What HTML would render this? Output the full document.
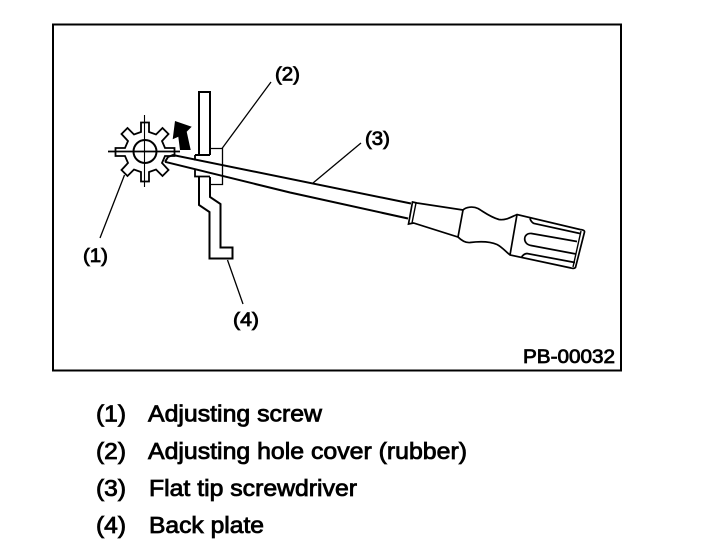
<!DOCTYPE html>
<html><head><meta charset="utf-8"><style>
html,body{margin:0;padding:0;background:#fff;width:704px;height:558px;overflow:hidden}
svg{display:block}
text{font-family:"Liberation Sans",sans-serif;fill:#000;stroke:#000;stroke-width:.8}
</style></head><body>
<svg width="704" height="558" viewBox="0 0 704 558" xmlns="http://www.w3.org/2000/svg">
<rect x="53" y="24.5" width="568" height="346" fill="none" stroke="#000" stroke-width="2"/>
<g fill="none" stroke="#000" stroke-width="1.8" stroke-linejoin="miter">
<!-- gear -->
<polygon stroke-width="1.8" points="141,122.5 149,122.5 149,132 156,134.5 162.5,128 168.5,134 162,141 165,148 174.5,148 174.5,156 165,156 162,163 168.5,170 162.5,176 156,169.5 149,172 149,181.5 141,181.5 141,172 134,169.5 127.500,176 121.500,170 128,163 125,156 115.500,156 115.500,148 125,148 128,141 121.500,134 127.500,128 134,134.500 141,132"/>
<circle cx="145" cy="151.500" r="11.500" stroke-width="2"/>
<path d="M108 151.500H180" stroke-width="1.800"/>
<path d="M144.500 115V187" stroke-width="1.100"/>
<!-- back plate -->
<path d="M199 155V92H210V155" stroke-width="2"/>
<path d="M199 177V205L209.500 212V258.500H232.500V247.500H220.500V204L210 197V177" stroke-width="2"/>
<!-- cover -->
<path d="M210 148.500H222.500V184.500H210" stroke-width="1.300"/>
<path d="M195 155H210" stroke-width="2"/>
<path d="M195 155V160.500" stroke-width="1.800"/>
<path d="M195 170V176.500H210" stroke-width="1.800"/>
<!-- screwdriver shaft -->
<path d="M165 161.800L168 157L173 155L411 203.500" stroke-width="2"/>
<path d="M165 161.800L290 192.500L408 218.500" stroke-width="2"/>
<!-- ferrule -->
<path d="M412.500 202L417 203L463 210L458 237L413.500 223L408.500 224L412.500 202Z" stroke-width="1.700"/>
<path d="M416 203L412 223" stroke-width="1.400"/>
<!-- handle -->
<path d="M463 210C466 207 473 206 478 208.500C484 212 490 217 499 219.500C506 220.500 511 217 517 214.500L580 229.500Q585 230 584.500 232L575.500 267.500Q574 269 571 268L510 255C505 251 502 247 497 244.500C489 241 478 241.500 470 242.500C465 243 461 240 458 237" stroke-width="1.700"/>
<path d="M517 214.500L510 255" stroke-width="1.700"/>
<path d="M581 231L573 267" stroke-width="1.400"/>
<path d="M530 218.500Q531 222 534 223.500L580 233.500" stroke-width="1.700"/>
<path d="M577 241.500L531.500 233.500C523 232.500 522 244 531 245.500L576 254" stroke-width="1.700"/>
<path d="M521.500 257.500Q523 254 527 253.500L575 262.500" stroke-width="1.700"/>
<!-- leaders -->
<g stroke-width="1.300">
<path d="M271 82L222 148.500"/>
<path d="M361 143L313 183"/>
<path d="M124.500 175L100 238"/>
<path d="M227.500 260L243 304"/>
</g>
</g>
<polygon points="175,121 191.700,126.700 186.700,131.700 190.700,150 180,150 178.300,136.700 172.700,139.300" fill="#000"/>
<g font-size="19.500">
<text x="275" y="80.500" textLength="25" lengthAdjust="spacingAndGlyphs">(2)</text>
<text x="365" y="145" textLength="25" lengthAdjust="spacingAndGlyphs">(3)</text>
<text x="83" y="262" textLength="25" lengthAdjust="spacingAndGlyphs">(1)</text>
<text x="233" y="326" textLength="26" lengthAdjust="spacingAndGlyphs">(4)</text>
<text x="523" y="363" textLength="92" lengthAdjust="spacingAndGlyphs">PB-00032</text>
</g>
<g font-size="23">
<text x="96" y="421.500" textLength="30" lengthAdjust="spacingAndGlyphs">(1)</text>
<text x="148" y="421.500" textLength="174" lengthAdjust="spacingAndGlyphs">Adjusting screw</text>
<text x="96" y="459" textLength="30" lengthAdjust="spacingAndGlyphs">(2)</text>
<text x="148" y="459" textLength="319" lengthAdjust="spacingAndGlyphs">Adjusting hole cover (rubber)</text>
<text x="96" y="496" textLength="30" lengthAdjust="spacingAndGlyphs">(3)</text>
<text x="149" y="496" textLength="208" lengthAdjust="spacingAndGlyphs">Flat tip screwdriver</text>
<text x="96" y="533" textLength="30" lengthAdjust="spacingAndGlyphs">(4)</text>
<text x="149" y="533" textLength="115" lengthAdjust="spacingAndGlyphs">Back plate</text>
</g>
</svg>
</body></html>
